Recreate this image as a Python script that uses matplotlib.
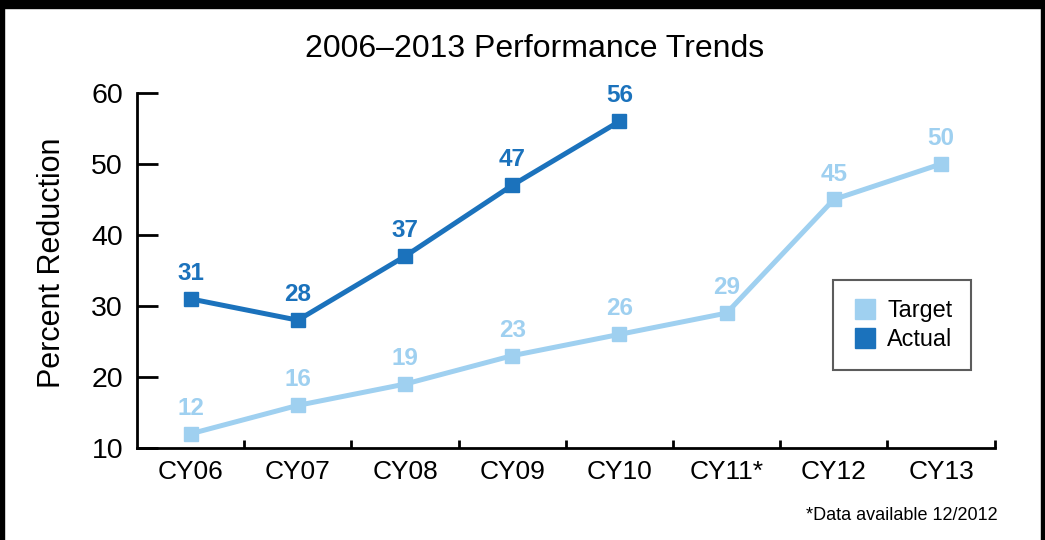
import matplotlib
matplotlib.use('Agg')

import matplotlib.pyplot as plt
from matplotlib.lines import Line2D
from matplotlib.patches import Rectangle

# -------------------
# Data
# -------------------
years = ['CY06', 'CY07', 'CY08', 'CY09', 'CY10', 'CY11*', 'CY12', 'CY13']
target = [12, 16, 19, 23, 26, 29, 45, 50]
actual = [31, 28, 37, 47, 56]

light_blue = '#9fd0f0'
dark_blue = '#1b72bc'

plt.rcParams['font.family'] = ['Liberation Sans', 'DejaVu Sans']

fig = plt.figure(figsize=(10.45, 5.4), dpi=100)
ax = fig.add_axes([0.1311, 0.1704, 0.8207, 0.6574])

x_t = list(range(len(target)))
x_a = list(range(len(actual)))

ax.plot(x_t, target, '-s', color=light_blue, lw=3.6, ms=10.5, solid_joinstyle='miter')
ax.plot(x_a, actual, '-s', color=dark_blue, lw=3.6, ms=10.5, solid_joinstyle='miter')

for xi, v in zip(x_t, target):
    ax.annotate(str(v), (xi, v), xytext=(0, 10), textcoords='offset points',
                ha='center', va='bottom', fontsize=17.5, color=light_blue, fontweight='bold')
for xi, v in zip(x_a, actual):
    ax.annotate(str(v), (xi, v), xytext=(0, 10), textcoords='offset points',
                ha='center', va='bottom', fontsize=17.5, color=dark_blue, fontweight='bold')

ax.set_xlim(-0.5, len(years) - 0.5)
ax.set_ylim(10, 60)
ax.set_yticks([10, 20, 30, 40, 50, 60])
ax.tick_params(axis='y', direction='in', length=15, width=2, labelsize=20.5, pad=10)

# category labels centred, ticks on the boundaries
ax.set_xticks([i + 0.5 for i in range(len(years))])
ax.set_xticklabels([])
ax.tick_params(axis='x', direction='in', length=6, width=2)
for i, lab in enumerate(years):
    ax.text(i, -0.035, lab, transform=ax.get_xaxis_transform(), ha='center', va='top', fontsize=19)

for s in ['top', 'right']:
    ax.spines[s].set_visible(False)
for s in ['left', 'bottom']:
    ax.spines[s].set_linewidth(2)

fig.text(0.05, 0.513, 'Percent Reduction', rotation=90, ha='center', va='center', fontsize=22)
fig.text(0.512, 0.91, '2006\u20132013 Performance Trends', ha='center', va='center', fontsize=23)

handles = [Line2D([], [], ls='none', marker='s', ms=14, color=light_blue),
           Line2D([], [], ls='none', marker='s', ms=14, color=dark_blue)]
leg = ax.legend(handles, ['Target', 'Actual'], loc='upper left', bbox_to_anchor=(0.812, 0.472),
                fontsize=16.8, frameon=True, fancybox=False, edgecolor='#333333',
                handletextpad=0.4, borderpad=0.8, labelspacing=0.25, handlelength=1.1,
                borderaxespad=0)
leg.get_frame().set_linewidth(1.5)

fig.text(0.955, 0.045, '*Data available 12/2012', ha='right', va='center', fontsize=13)

# black frame strips
fig.patches.append(Rectangle((0, 0.985), 1, 0.015, transform=fig.transFigure, color='black'))
fig.patches.append(Rectangle((0, 0), 0.004, 1, transform=fig.transFigure, color='black'))
fig.patches.append(Rectangle((0.996, 0), 0.004, 1, transform=fig.transFigure, color='black'))

fig.savefig('out.png', dpi=100)
